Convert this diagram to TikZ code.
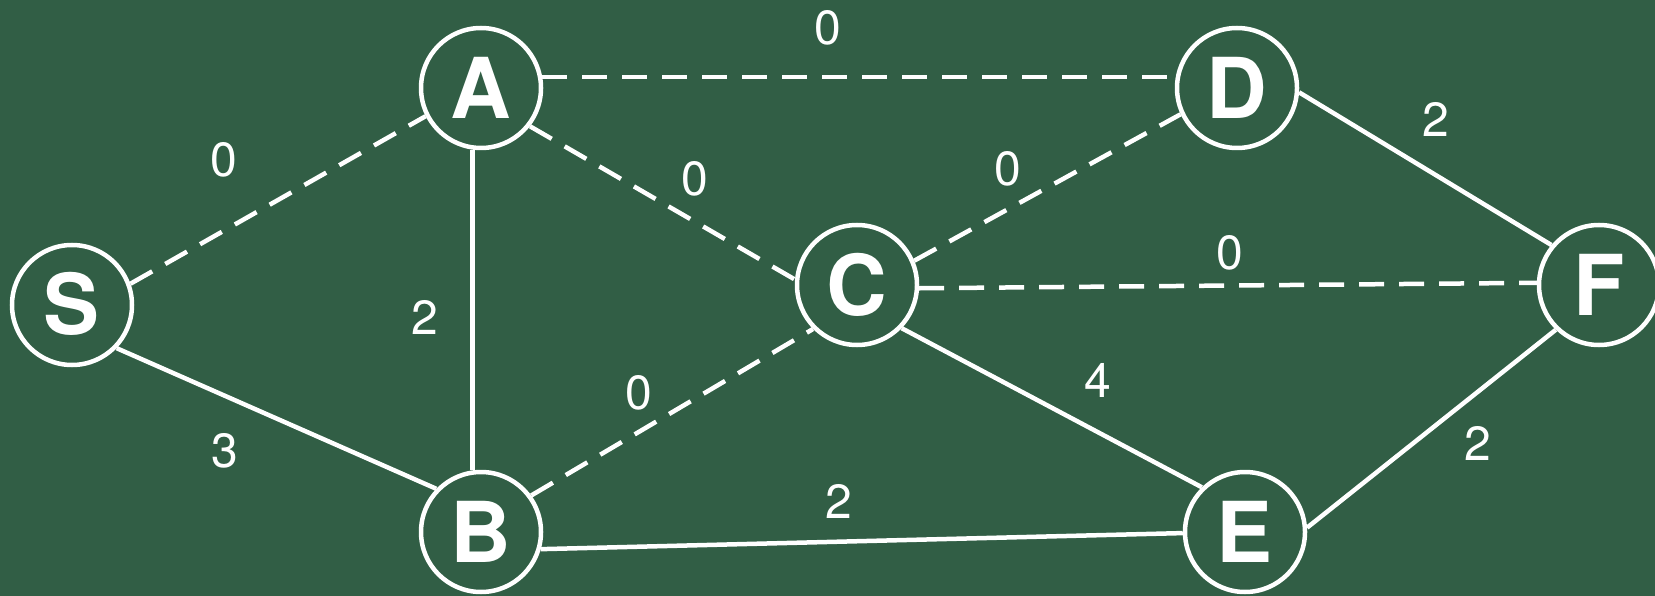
\documentclass[tikz,border=0pt]{standalone}
\usepackage{fontspec}
\setmainfont{TeX Gyre Heros}
\definecolor{board}{RGB}{49,94,69}
\begin{document}
\begin{tikzpicture}[x=1pt,y=-1pt,
  vert/.style={circle,draw=white,line width=4.5pt,minimum size=120pt,inner sep=0pt,
    text=white,font=\bfseries\fontsize{84}{84}\selectfont},
  solidedge/.style={draw=white,line width=4.5pt},
  dashedge/.style={draw=white,line width=4.5pt,dash pattern=on 25pt off 15pt},
  wlabel/.style={text=white,font=\fontsize{48}{48}\selectfont,inner sep=0pt}]
\fill[board] (0,0) rectangle (1655,596);
\useasboundingbox (0,0) rectangle (1655,596);
\node[vert] (S) at (72,305) {\raisebox{3pt}{S}};
\node[vert] (A) at (481,88) {A};
\node[vert] (D) at (1237,88) {D};
\node[vert] (C) at (857,285) {C};
\node[vert] (F) at (1599,285) {F};
\node[vert] (B) at (481,532) {B};
\node[vert] (E) at (1245,532) {E};
% edges
\draw[dashedge] (S.20) -- (A.207);
\draw[solidedge] (S.-44) -- (B.136);
\draw[solidedge] (A.262) -- (B.98);
\draw[dashedge] (A.10) -- (D.170);
\draw[dashedge] (A.-38) -- (C.175);
\draw[dashedge] (B.36) -- (C.225);
\draw[dashedge] (C.23) -- (D.205);
\draw[dashedge] (C.-3) -- (F.178);
\draw[solidedge] (C.-44) -- (E.134);
\draw[solidedge] (B.-16) -- (E.181);
\draw[solidedge] (D.-4) -- (F.140);
\draw[solidedge] (E.4) -- (F.226);
% labels
\node[wlabel] (lSA) at (224,160) {0};
\node[wlabel] (lSB) at (225,451) {3};
\node[wlabel] (lAB) at (425,317) {2};
\node[wlabel] (lAD) at (828,28) {0};
\node[wlabel] (lAC) at (695,179) {0};
\node[wlabel] (lBC) at (639,393) {0};
\node[wlabel] (lCD) at (1008,169) {0};
\node[wlabel] (lCF) at (1230,253) {0};
\node[wlabel] (lCE) at (1098,380) {4};
\node[wlabel] (lBE) at (839,501) {2};
\node[wlabel] (lDF) at (1436,119) {2};
\node[wlabel] (lEF) at (1478,443) {2};
\end{tikzpicture}
\end{document}
